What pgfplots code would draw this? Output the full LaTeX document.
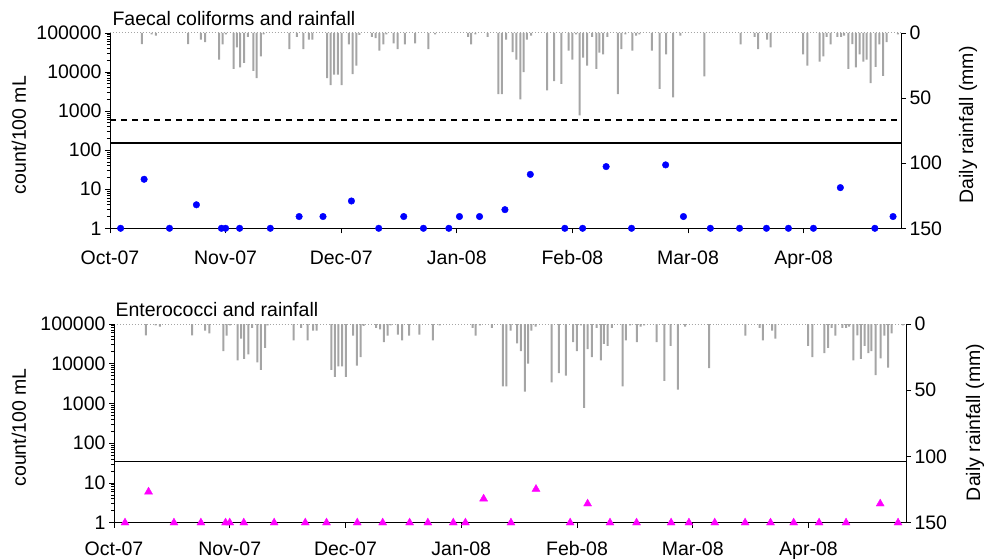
\documentclass[border=0pt]{standalone}
\usepackage{fontspec}
\setmainfont{Liberation Sans}
\usepackage{pgfplots}
\usepackage{pgfplotstable}
\pgfplotsset{compat=1.18}
\definecolor{raingray}{RGB}{165,165,165}
\definecolor{fcblue}{RGB}{0,0,255}
\definecolor{entmag}{RGB}{255,0,255}

% daily rainfall (mm), x = days after 1 Oct 2007
\pgfplotstableread{
day rain
8.4 8.5
11.0 1
12.1 2
20.6 8.5
24.0 5
25.1 7
28.8 20.5
29.7 8.8
30.6 1
32.6 27.5
33.5 11
34.3 26.4
35.4 23
36.4 3
37.8 29
38.7 34.6
39.8 18
40.5 1
47.3 12.3
49.3 3
51.0 12.3
52.5 5
53.4 5
57.3 34.6
58.2 40
59.1 32
60.1 32
61.1 40
63.0 8.8
64.0 31.5
65.0 25
65.8 1.5
69.1 3
70.1 4
71.1 13.6
72.1 8.8
72.9 1
74.8 8
75.9 12.3
77.8 8.8
80.5 8
84.0 12.3
85.8 1
94.5 3
95.3 8.8
96.4 1
99.6 3
102.5 47
103.4 47
104.5 5
106.2 14.6
107.2 20.5
108.3 51
109.1 30
110.0 5
111.1 2
115.3 44
117.2 37
119.1 39
121.0 13.6
122.0 20.5
123.0 1
123.9 63.3
124.8 19
125.9 25
127.2 3
128.3 27.5
129.1 15
130.1 16.5
131.2 3
134.0 47
134.9 12.3
136.0 1
137.8 13.6
138.8 2
139.7 1
143.0 13.6
145.0 43
146.7 16.5
148.6 49.5
150.5 2
156.8 33.4
166.4 8.8
170.1 3
171.0 12.3
173.4 5
174.3 11
182.9 16.5
184.0 25
187.2 22
188.2 18
189.1 3
190.1 8.8
191.9 3
192.9 3
193.7 2
194.8 27.5
195.9 8.5
196.8 26.4
197.8 16.5
198.8 22
199.6 20.5
200.7 38.5
202.0 26
203.0 8.8
204.0 33
204.9 7
207.9 1
}\rainfall

\pgfplotstableread{
day count
2.8 1
9.0 18
15.7 1
22.8 4
29.4 1
30.5 1
34.2 1
42.3 1
49.9 2
56.2 2
63.7 5
70.9 1
77.5 2
82.7 1
89.4 1
92.2 2
97.5 2
104.2 3
110.9 24
120.0 1
124.7 1
130.9 38
137.6 1
146.6 42
151.3 2
158.4 1
166.1 1
173.2 1
179.0 1
185.6 1
192.7 11
201.8 1
206.6 2
}\faecal

\pgfplotstableread{
day count
2.9 1
9.1 6
15.8 1
22.9 1
29.4 1
30.5 1
34.2 1
42.2 1
50.4 1
56.0 1
64.1 1
70.8 1
77.9 1
82.7 1
89.4 1
92.6 1
97.4 4
104.6 1
111.2 7
120.2 1
124.8 3
130.7 1
137.7 1
146.8 1
151.5 1
158.3 1
166.3 1
173.0 1
179.1 1
185.8 1
192.9 1
201.9 3
206.6 1
}\entero

\pgfplotsset{
  every axis/.append style={font=\fontsize{19.5bp}{23bp}\selectfont},
  /pgfplots/datex/.style={scale only axis, xmin=0, xmax=208.7,
    xtick={0,30.5,61,91.5,122,152.5,183},
    xticklabels={Oct-07,Nov-07,Dec-07,Jan-08,Feb-08,Mar-08,Apr-08},
    xticklabel style={yshift=-14bp},
    tick align=outside, major tick length=5bp, minor tick length=3bp,
    tick style={black, line width=0.8bp},
    axis line style={black, line width=1bp}, clip=false},
  /pgfplots/rainaxis/.style={datex, axis y line*=right, axis x line=none,
    y dir=reverse, ymin=0, ymax=150,
    ytick={0,50,100,150}, yticklabels={0,50,100,150}},
  /pgfplots/countaxis/.style={datex, axis x line*=bottom, axis y line*=left,
    ymin=1, ymax=100000,
    ytick={1,10,100,1000,10000,100000},
    yticklabels={1,10,100,1000,10000,100000}},
}

\begin{document}
\begin{tikzpicture}
\path[use as bounding box] (0,0) rectangle (988bp,559bp);

% ---- top panel: faecal coliforms
\begin{axis}[rainaxis, at={(110bp,330.7bp)}, anchor=south west,
  width=791bp, height=195.3bp]
  \addplot[ybar, bar width=2bp, bar shift=0pt, fill=raingray, draw=none]
    table[x=day, y=rain]{\rainfall};
  \draw[raingray, dotted, line width=1bp] (axis cs:0,0) -- (axis cs:208.7,0);
\end{axis}
\begin{axis}[ymode=log, countaxis, at={(110bp,330.7bp)}, anchor=south west,
  width=791bp, height=195.3bp]
  \addplot[black, line width=1.6bp, dash pattern=on 6bp off 5bp]
    coordinates {(0,600) (208.7,600)};
  \addplot[black, line width=1.6bp] coordinates {(0,150) (208.7,150)};
  \addplot[only marks, mark=*, mark size=3.3bp, color=fcblue]
    table[x=day, y=count]{\faecal};
\end{axis}
\node[anchor=base west, font=\fontsize{19.5bp}{23bp}\selectfont]
  at (109bp,533bp) {Faecal coliforms and rainfall};
\node[rotate=90, font=\fontsize{19.5bp}{23bp}\selectfont]
  at (19bp,424bp) {count/100 mL};
\node[rotate=90, font=\fontsize{19.5bp}{23bp}\selectfont]
  at (968bp,434bp) {Daily rainfall (mm)};

% ---- bottom panel: enterococci
\begin{axis}[rainaxis, at={(114bp,36.3bp)}, anchor=south west,
  width=792bp, height=198.7bp]
  \addplot[ybar, bar width=2bp, bar shift=0pt, fill=raingray, draw=none]
    table[x=day, y=rain]{\rainfall};
  \draw[raingray, dotted, line width=1bp] (axis cs:0,0) -- (axis cs:208.7,0);
\end{axis}
\begin{axis}[ymode=log, countaxis, at={(114bp,36.3bp)}, anchor=south west,
  width=792bp, height=198.7bp, xticklabel style={yshift=3.5bp}]
  \addplot[black, line width=1.6bp] coordinates {(0,35) (208.7,35)};
  \addplot[only marks, mark=triangle*, mark size=4.6bp, color=entmag]
    table[x=day, y=count]{\entero};
\end{axis}
\node[anchor=base west, font=\fontsize{19.5bp}{23bp}\selectfont]
  at (112bp,242bp) {Enterococci and rainfall};
\node[rotate=90, font=\fontsize{19.5bp}{23bp}\selectfont]
  at (19bp,131.5bp) {count/100 mL};
\node[rotate=90, font=\fontsize{19.5bp}{23bp}\selectfont]
  at (975bp,136.5bp) {Daily rainfall (mm)};
\end{tikzpicture}
\end{document}
